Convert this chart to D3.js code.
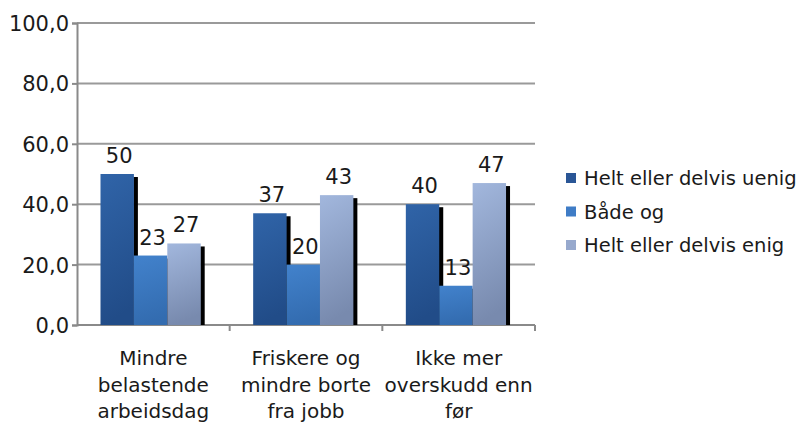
<!DOCTYPE html>
<html>
<head>
<meta charset="utf-8">
<script src="https://cdn.jsdelivr.net/npm/d3@7"></script>
<style>
  body { margin: 0; background: #fff; }
  text { font-family: "DejaVu Sans", sans-serif; fill: #1a1a1a; }
</style>
</head>
<body>
<div id="drawing"></div>
<script>
var categories = [
    ["Mindre", "belastende", "arbeidsdag"],
    ["Friskere og", "mindre borte", "fra jobb"],
    ["Ikke mer", "overskudd enn", "før"]
];
var seriesNames = ["Helt eller delvis uenig", "Både og", "Helt eller delvis enig"];
var uenig = [50, 37, 40];
var baadeOg = [23, 20, 13];
var enig = [27, 43, 47];
var yTicks = [0, 20, 40, 60, 80, 100];

(function () {
    var series = [uenig, baadeOg, enig];
    var W = 806, H = 423;
    var pLeft = 77, pRight = 535, pTop = 23, pBottom = 325;

    var svg = d3.select("#drawing").append("svg")
        .attr("width", W).attr("height", H);

    var defs = svg.append("defs");
    var grads = [
        ["#3064a8", "#214c88"],
        ["#4282cc", "#336cb0"],
        ["#a2b7dd", "#788aae"]
    ];
    grads.forEach(function (g, i) {
        var lg = defs.append("linearGradient").attr("id", "g" + i)
            .attr("x1", 0).attr("y1", 0).attr("x2", 0.15).attr("y2", 1);
        lg.append("stop").attr("offset", "0%").attr("stop-color", g[0]);
        lg.append("stop").attr("offset", "100%").attr("stop-color", g[1]);
    });
    var legendColors = ["#2a5696", "#3f7cc6", "#97a9cd"];

    var x = d3.scaleBand().domain(d3.range(categories.length)).range([pLeft, pRight]);
    var y = d3.scaleLinear().domain([0, 100]).range([pBottom, pTop]);
    var bw = 33.4, off = 23.5;

    // grid
    svg.append("g").selectAll("line").data(yTicks.slice(1)).enter().append("line")
        .attr("x1", pLeft).attr("x2", pRight)
        .attr("y1", function (d) { return y(d); }).attr("y2", function (d) { return y(d); })
        .attr("stroke", "#9a9a9a").attr("stroke-width", 2);

    // y axis
    var yAxis = d3.axisLeft(y).tickValues(yTicks).tickSize(5).tickPadding(3)
        .tickFormat(function (d) { return d3.format(".1f")(d).replace(".", ","); });
    var ya = svg.append("g").attr("transform", "translate(" + pLeft + ",0)").call(yAxis);
    ya.select(".domain").attr("stroke", "#8a8a8a").attr("stroke-width", 2);
    ya.selectAll(".tick line").attr("stroke", "#8a8a8a").attr("stroke-width", 2);
    ya.selectAll(".tick text").style("font-size", "21px").attr("fill", "#1a1a1a")
        .style("font-family", "DejaVu Sans, sans-serif").attr("dy", "0.36em");

    // x axis
    svg.append("line").attr("x1", pLeft).attr("x2", pRight).attr("y1", pBottom).attr("y2", pBottom)
        .attr("stroke", "#8a8a8a").attr("stroke-width", 2);
    svg.append("g").selectAll("line").data(d3.range(1, categories.length + 1)).enter().append("line")
        .attr("x1", function (d) { return pLeft + d * x.bandwidth(); })
        .attr("x2", function (d) { return pLeft + d * x.bandwidth(); })
        .attr("y1", pBottom).attr("y2", pBottom + 6)
        .attr("stroke", "#8a8a8a").attr("stroke-width", 2);

    // bars
    var groups = svg.append("g").selectAll("g").data(categories).enter().append("g")
        .attr("transform", function (d, i) { return "translate(" + x(i) + ",0)"; });
    groups.each(function (c, ci) {
        var g = d3.select(this);
        series.forEach(function (s, si) {
            var v = s[ci];
            var bx = off + si * bw;
            // shadow on the right side
            g.append("rect").attr("x", bx + bw - 0.5).attr("y", y(v) + 3)
                .attr("width", 4.5).attr("height", pBottom - y(v) - 3).attr("fill", "#000");
            g.append("rect").attr("x", bx).attr("y", y(v))
                .attr("width", bw).attr("height", pBottom - y(v))
                .attr("fill", "url(#g" + si + ")");
        });
        series.forEach(function (s, si) {
            var v = s[ci];
            g.append("text").attr("x", off + si * bw + bw / 2 + 2).attr("y", y(v) - 11)
                .attr("text-anchor", "middle").style("font-size", "21px").text(v);
        });
        g.append("text").attr("x", x.bandwidth() / 2).attr("y", 365)
            .attr("text-anchor", "middle").style("font-size", "20px")
            .selectAll("tspan").data(c).enter().append("tspan")
            .attr("x", x.bandwidth() / 2).attr("dy", function (d, i) { return i ? 26.5 : 0; })
            .text(function (d) { return d; });
    });

    // legend
    var lg = svg.append("g").selectAll("g").data(seriesNames).enter().append("g")
        .attr("transform", function (d, i) { return "translate(566," + (178 + i * 33.5) + ")"; });
    lg.append("rect").attr("x", 0).attr("y", -5).attr("width", 10).attr("height", 10)
        .attr("fill", function (d, i) { return legendColors[i]; });
    lg.append("text").attr("x", 18).attr("y", 0).attr("dy", "0.36em")
        .style("font-size", "19.5px").text(function (d) { return d; });
})();
</script>
</body>
</html>
